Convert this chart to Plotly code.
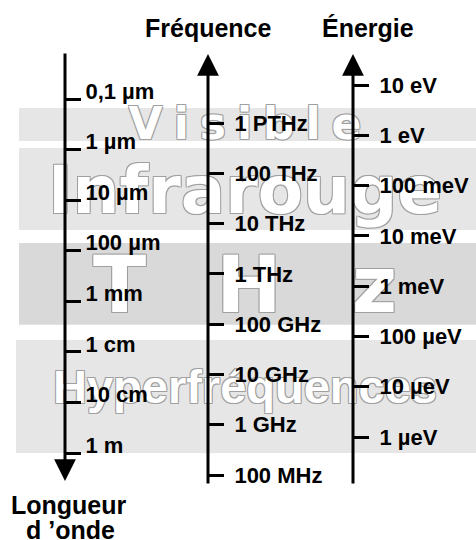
import numpy as np
import plotly.graph_objects as go

# Longueur d'onde (m) - axe de gauche, vers le bas
wl_labels = ["0,1 µm", "1 µm", "10 µm", "100 µm", "1 mm", "1 cm", "10 cm", "1 m"]
wl_values = [1e-7, 1e-6, 1e-5, 1e-4, 1e-3, 1e-2, 1e-1, 1.0]

# Fréquence (Hz) - axe du milieu, vers le haut
freq_labels = ["1 PTHz", "100 THz", "10 THz", "1 THz", "100 GHz", "10 GHz", "1 GHz", "100 MHz"]
freq_values = [1e15, 1e14, 1e13, 1e12, 1e11, 1e10, 1e9, 1e8]

# Énergie (eV) - axe de droite, vers le haut
en_labels = ["10 eV", "1 eV", "100 meV", "10 meV", "1 meV", "100 µeV", "10 µeV", "1 µeV"]
en_values = [10, 1, 1e-1, 1e-2, 1e-3, 1e-4, 1e-5, 1e-6]

# Domaines spectraux (bornes en longueur d'onde, m)
band_names = ["Visible", "Infrarouge", "THz", "Hyperfréquences"]
band_lo = [1.5e-7, 9.3e-7, 7.0e-5, 5.8e-3]
band_hi = [6.8e-7, 3.9e-5, 2.9e-3, 1.0]

W, H = 476, 540
X_WL, X_FREQ, X_EN = 65, 208, 353
FONT = "Liberation Sans"

# pixel rows of first / last tick on each axis
TICK_PX = {"wl": (99, 453), "freq": (123, 475), "en": (85, 437)}

band_style = {
    "Visible": dict(fill="#e6e6e6", x0=19, family="DejaVu Sans", size=44, dy=3,
                    text="V\u2005i\u2005s\u2005i\u2005b\u2005l\u2005e"),
    "Infrarouge": dict(fill="#e6e6e6", x0=19, family="DejaVu Sans", size=66, dy=7,
                       text="Infrarouge"),
    "THz": dict(fill="#d9d9d9", x0=19, family="DejaVu Sans", size=78, dy=9,
                text="T\u2002\u2009\u2009H\u2002\u2009\u2009z"),
    "Hyperfréquences": dict(fill="#e6e6e6", x0=16, family=FONT, size=47, dy=-5,
                            text="Hyperfréquences"),
}


def log_range(values, px):
    a, b = np.log10(values[0]), np.log10(values[-1])
    per_px = (b - a) / (px[1] - px[0])
    return [a + (H - px[0]) * per_px, a - px[0] * per_px]


def side_axis(x_px, labels, values, rng, shift=0, standoff=None):
    ax = dict(
        type="log", range=rng, anchor="free", position=x_px / W, side="right",
        tickmode="array", tickvals=values, ticktext=labels,
        ticks="outside", ticklen=15, tickwidth=3, tickcolor="black",
        showline=False, showgrid=False, zeroline=False, fixedrange=True,
        tickfont=dict(family=FONT, size=22, color="black", weight="bold"),
        ticklabelshift=shift,
    )
    if standoff is not None:
        ax["ticklabelstandoff"] = standoff
    return ax


fig = go.Figure()

outline = "1px 1px 0 #a0a0a0, -1px -1px 0 #a0a0a0, 1px -1px 0 #a0a0a0, -1px 1px 0 #a0a0a0"
wl_per_px = 7 / (TICK_PX["wl"][1] - TICK_PX["wl"][0])

# grey bands
for name, lo, hi in zip(band_names, band_lo, band_hi):
    st = band_style[name]
    fig.add_trace(go.Scatter(
        x=[st["x0"], W, W, st["x0"], st["x0"]], y=[lo, lo, hi, hi, lo], yaxis="y",
        mode="lines", fill="toself", fillcolor=st["fill"], line=dict(width=0),
        hoverinfo="skip", showlegend=False,
    ))

# watermark words
for name, lo, hi in zip(band_names, band_lo, band_hi):
    st = band_style[name]
    yc = 10 ** ((np.log10(lo) + np.log10(hi)) / 2 + st["dy"] * wl_per_px)
    fig.add_trace(go.Scatter(
        x=[245], y=[yc], yaxis="y", mode="text",
        text=[st["text"]], textposition="middle center",
        textfont=dict(family=st["family"], size=st["size"], color="white",
                      weight="bold", shadow=outline),
        hoverinfo="skip", showlegend=False,
    ))

# invisible anchors so every axis is drawn
for vals, ax, xp in [(wl_values, "y", X_WL), (freq_values, "y2", X_FREQ), (en_values, "y3", X_EN)]:
    fig.add_trace(go.Scatter(x=[xp] * len(vals), y=vals, yaxis=ax, mode="markers",
                             marker=dict(opacity=0), hoverinfo="skip", showlegend=False))

arrow = dict(xref="x", yref="paper", axref="pixel", ayref="pixel", text="",
             showarrow=True, arrowhead=2, arrowsize=1.45, arrowwidth=3, arrowcolor="black")
annotations = [
    dict(arrow, x=X_WL, y=1 - 481 / H, ax=0, ay=52 - 481),
    dict(arrow, x=X_FREQ, y=1 - 54 / H, ax=0, ay=485 - 54),
    dict(arrow, x=X_EN, y=1 - 54 / H, ax=0, ay=485 - 54),
]
title_font = dict(family=FONT, size=25, color="black", weight="bold")
for txt, xp, yp in [("Fréquence", 208, 28), ("Énergie", 368, 28),
                    ("Longueur", 69, 505), ("d \u2019onde", 70, 530)]:
    annotations.append(dict(text=txt, x=xp, y=1 - yp / H, xref="x", yref="paper",
                            showarrow=False, font=title_font, borderpad=0,
                            xanchor="center", yanchor="middle"))

yaxis = side_axis(X_WL, wl_labels, wl_values, log_range(wl_values, TICK_PX["wl"]), shift=8)
yaxis2 = side_axis(X_FREQ, freq_labels, freq_values, log_range(freq_values, TICK_PX["freq"]),
                   standoff=6)
yaxis2["overlaying"] = "y"
yaxis3 = side_axis(X_EN, en_labels, en_values, log_range(en_values, TICK_PX["en"]),
                   standoff=6)
yaxis3["overlaying"] = "y"

fig.update_layout(
    width=W, height=H,
    margin=dict(l=0, r=0, t=0, b=0),
    paper_bgcolor="white", plot_bgcolor="rgba(0,0,0,0)",
    showlegend=False,
    xaxis=dict(range=[0, W], visible=False, fixedrange=True),
    yaxis=yaxis, yaxis2=yaxis2, yaxis3=yaxis3,
    annotations=annotations,
)

fig.write_html("out.html", config={"displayModeBar": False},
               post_script="document.body.style.margin='0px';")
